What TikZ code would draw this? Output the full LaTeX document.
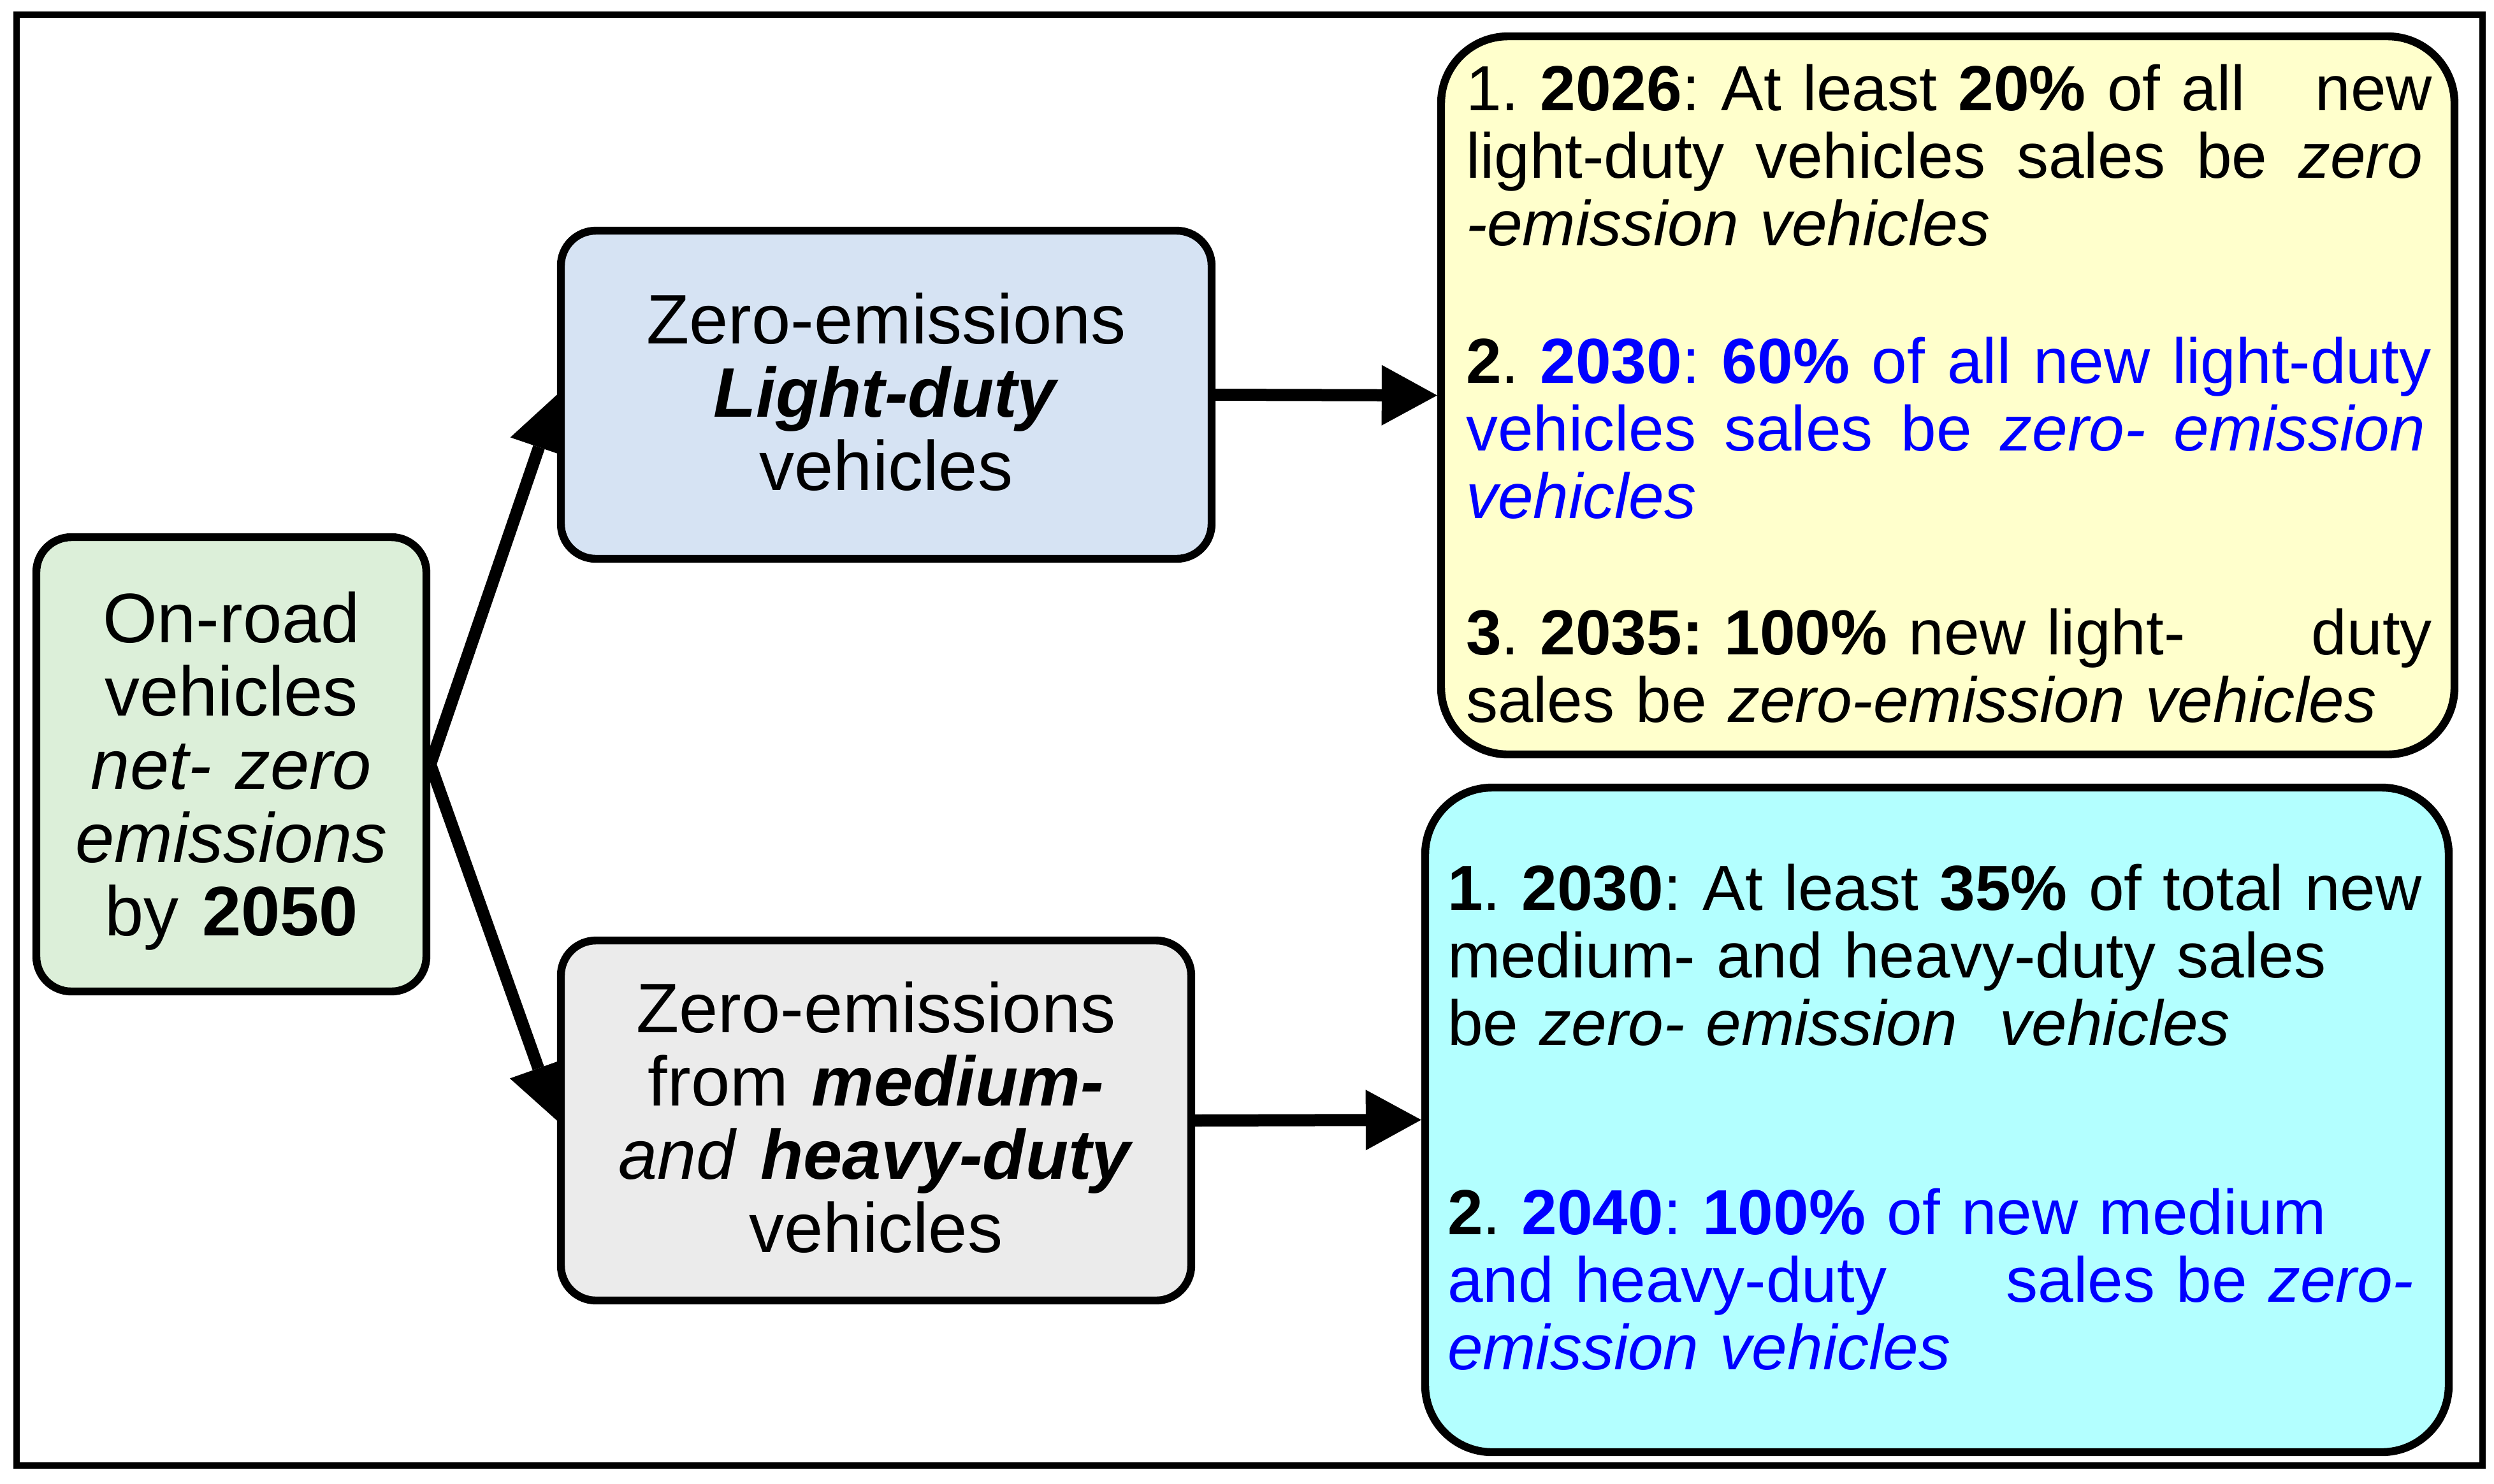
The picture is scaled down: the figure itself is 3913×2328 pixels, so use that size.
\documentclass[tikz,border=0pt]{standalone}
\usepackage{fontspec}
\setmainfont{Liberation Sans}
\usetikzlibrary{arrows.meta,backgrounds}
\definecolor{gfill}{RGB}{220,239,217}
\definecolor{bfill}{RGB}{214,227,243}
\definecolor{grfill}{RGB}{235,235,235}
\definecolor{yfill}{RGB}{255,255,204}
\definecolor{cfill}{RGB}{179,255,255}
\definecolor{tblue}{RGB}{0,0,255}
\frenchspacing
\newlength{\jw}
\newcommand{\jg}{\hfil\ }
\newcommand{\jline}[1]{\makebox[\jw][l]{#1}}
\begin{document}
\begin{tikzpicture}[x=0.25pt,y=-0.25pt,
  lbox/.style={draw=black, line width=3.1pt, rounded corners=13.75pt, inner sep=0pt,
    align=center, text height=21.25pt, font={\fontsize{27.5pt}{28.75pt}\selectfont}},
  rbox/.style={draw=black, line width=3.1pt, rounded corners=26.25pt, inner sep=0pt,
    align=left, text height=20pt, font={\fontsize{25pt}{26.5pt}\selectfont}},
  arr/.style={line width=4.75pt, -{Triangle[length=21.75pt,width=23.75pt,line width=0pt]}},
  frame/.style={draw=black, line width=2.4pt}]
\useasboundingbox (0,0) rectangle (3913,2328);
\draw[frame] (26,23) rectangle (3895,2300);

\node[lbox, fill=gfill, minimum width=153pt, minimum height=178.25pt, text width=140pt,
  text depth=117pt] (road) at (363,1199.5)
  {On-road\\vehicles\\\textit{net- zero}\\\textit{emissions}\\by \textbf{2050}};

\node[lbox, fill=bfill, minimum width=255.25pt, minimum height=128.75pt, text width=225pt,
  text depth=61.5pt] (light) at (1390.5,619.5)
  {Zero-emissions\\\textbf{\textit{Light-duty}}\\vehicles};

\node[lbox, fill=grfill, minimum width=247.25pt, minimum height=141.25pt, text width=225pt,
  text depth=90.5pt] (heavy) at (1374.5,1758.5)
  {Zero-emissions\\from \textbf{\textit{medium-}}\\\textit{and} \textbf{\textit{heavy-duty}}\\vehicles};

\node[rbox, fill=yfill, minimum width=397.5pt, minimum height=281.75pt, text width=378pt,
  text depth=243.5pt] (ldgoals) at (3056,620.5)
  {\setlength{\jw}{379pt}%
   \jline{1. \textbf{2026}: At least \textbf{20\%} of all\hfill new}\\
   \jline{light-duty\jg vehicles\jg sales\jg be\jg {\itshape zero}}\\
   \textit{-emission vehicles}\\[27.5pt]
   \jline{\textbf{2}. \color{tblue}\textbf{2030}:\jg \textbf{60\%}\jg of\jg all\jg new\jg light-duty}\\
   \jline{\color{tblue}vehicles\jg sales\jg be\jg \textit{zero-}\jg {\itshape emission}}\\
   \jline{\color{tblue}\textit{vehicles}}\\[27pt]
   \jline{\textbf{3}. \textbf{2035: 100\%} new light-\hfill duty}\\
   sales be \textit{zero-emission vehicles}};

\node[rbox, fill=cfill, minimum width=401.5pt, minimum height=260.75pt, text width=384pt,
  text depth=184.75pt] (mhgoals) at (3039,1757.5)
  {\setlength{\jw}{379pt}%
   \jline{\textbf{1}. \textbf{2030}:\jg At\jg least\jg \textbf{35\%}\jg of\jg total\jg new}\\
   medium- and heavy-duty sales\\
   be \textit{zero- emission}\ \ \textit{vehicles}\\[47.75pt]
   \jline{\textbf{2}. \color{tblue}\textbf{2040}: \textbf{100\%} of new medium}\\
   \jline{\color{tblue}and heavy-duty\hfill sales be {\itshape zero-}}\\
   \jline{\color{tblue}\textit{emission vehicles}}};

\begin{scope}[on background layer]
  \draw[arr] (road.east) -- (light.west);
  \draw[arr] (road.east) -- (heavy.west);
  \draw[arr] (light.east) -- (ldgoals.west);
  \draw[arr] (heavy.east) -- (mhgoals.west);
\end{scope}
\end{tikzpicture}
\end{document}
